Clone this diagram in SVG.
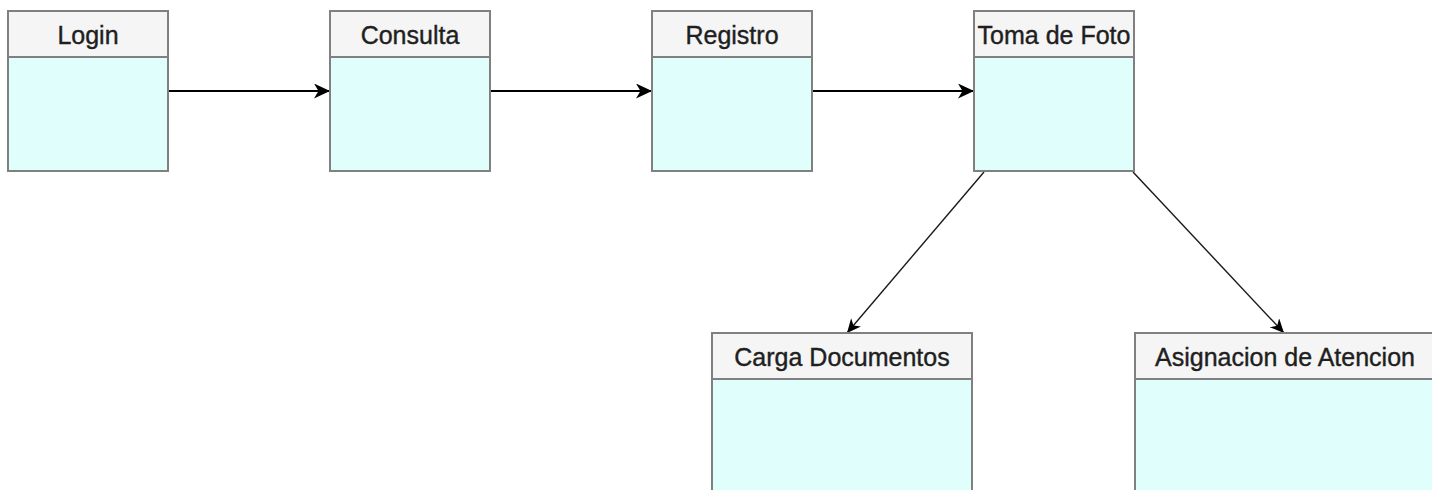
<svg xmlns="http://www.w3.org/2000/svg" width="1432" height="490" viewBox="0 0 1432 490">
<defs>
<marker id="arr" markerUnits="userSpaceOnUse" markerWidth="18" markerHeight="16" refX="16" refY="7.5" orient="auto">
<path d="M0,0 L16,7.5 L0,15 L4.5,7.5 Z" fill="#000"/>
</marker>
<marker id="arr2" markerUnits="userSpaceOnUse" markerWidth="16" markerHeight="14" refX="14" refY="6.5" orient="auto">
<path d="M0,0 L14,6.5 L0,13 L4,6.5 Z" fill="#000"/>
</marker>
<style>
.hdr{fill:#f5f5f5;stroke:#808080;stroke-width:2}
.body{fill:#e0fffc;stroke:#808080;stroke-width:2}
.lbl{font-family:"Liberation Sans",Arial,sans-serif;font-size:25px;fill:#1f1f1f;stroke:#1f1f1f;stroke-width:0.4;text-anchor:middle}
.c{fill:none;stroke:#000;stroke-width:2;marker-end:url(#arr)}
.d{fill:none;stroke:#1a1a1a;stroke-width:1.4;marker-end:url(#arr2)}
</style>
</defs>
<rect width="1432" height="490" fill="#fff"/>
<g id="connectors">
<line class="c" x1="168" y1="91" x2="330" y2="91"/>
<line class="c" x1="490" y1="91" x2="652" y2="91"/>
<line class="c" x1="812" y1="91" x2="974" y2="91"/>
<line class="d" x1="984" y1="172" x2="847" y2="333"/>
<line class="d" x1="1133" y1="172" x2="1284" y2="333"/>
</g>
<g id="login">
<rect class="body" x="8" y="57" width="160" height="114"/>
<rect class="hdr" x="8" y="11" width="160" height="46"/>
<text class="lbl" x="88" y="44">Login</text>
</g>
<g id="consulta">
<rect class="body" x="330" y="57" width="160" height="114"/>
<rect class="hdr" x="330" y="11" width="160" height="46"/>
<text class="lbl" x="410" y="44">Consulta</text>
</g>
<g id="registro">
<rect class="body" x="652" y="57" width="160" height="114"/>
<rect class="hdr" x="652" y="11" width="160" height="46"/>
<text class="lbl" x="732" y="44">Registro</text>
</g>
<g id="toma-de-foto">
<rect class="body" x="974" y="57" width="160" height="114"/>
<rect class="hdr" x="974" y="11" width="160" height="46"/>
<text class="lbl" x="1054" y="44">Toma de Foto</text>
</g>
<g id="carga-documentos">
<rect class="body" x="712" y="379" width="260" height="120"/>
<rect class="hdr" x="712" y="333" width="260" height="46"/>
<text class="lbl" x="842" y="366">Carga Documentos</text>
</g>
<g id="asignacion-de-atencion">
<rect class="body" x="1135" y="379" width="300" height="120"/>
<rect class="hdr" x="1135" y="333" width="300" height="46"/>
<text class="lbl" x="1285" y="366">Asignacion de Atencion</text>
</g>
</svg>
